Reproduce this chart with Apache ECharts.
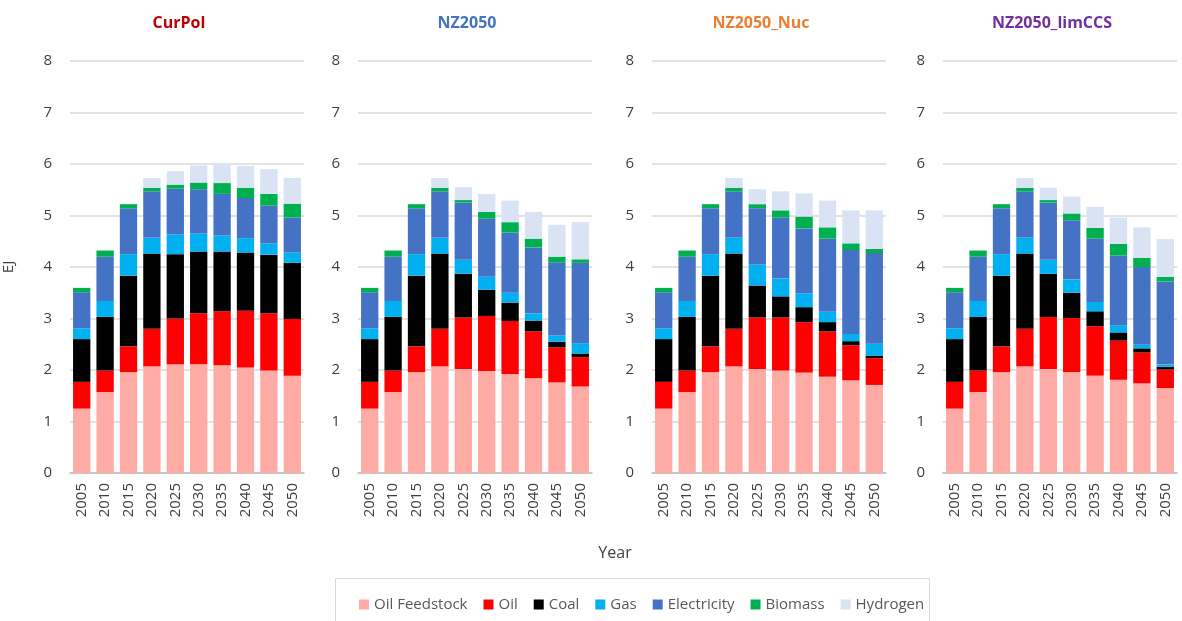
<!DOCTYPE html>
<html>
<head>
<meta charset="utf-8">
<script src="https://cdn.jsdelivr.net/npm/echarts@6/dist/echarts.min.js"></script>
<style>
	html, body { margin: 0; padding: 0; background: #fff; }
	#chart { width: 1182px; height: 621px; }
</style>
</head>
<body>
<div id="chart"></div>
<script>
	// categories and scenarios
	var years = ['2005', '2010', '2015', '2020', '2025', '2030', '2035', '2040', '2045', '2050'];
	var scenarios = ['CurPol', 'NZ2050', 'NZ2050_Nuc', 'NZ2050_limCCS'];
	var fuels = ['Oil Feedstock', 'Oil', 'Coal', 'Gas', 'Electricity', 'Biomass', 'Hydrogen'];
	var yTicks = [0, 1, 2, 3, 4, 5, 6, 7, 8];

	// one row per scenario (CurPol, NZ2050, NZ2050_Nuc, NZ2050_limCCS), EJ
	var oilFeedstock = [
		[1.25, 1.57, 1.96, 2.07, 2.11, 2.11, 2.09, 2.05, 1.99, 1.89],
		[1.25, 1.57, 1.96, 2.07, 2.02, 1.98, 1.92, 1.84, 1.76, 1.68],
		[1.25, 1.57, 1.96, 2.07, 2.02, 1.99, 1.95, 1.87, 1.80, 1.71],
		[1.25, 1.57, 1.96, 2.07, 2.02, 1.96, 1.89, 1.81, 1.74, 1.65]
	];
	var oil = [
		[0.52, 0.42, 0.50, 0.73, 0.89, 0.99, 1.05, 1.10, 1.11, 1.10],
		[0.52, 0.42, 0.50, 0.73, 1.00, 1.07, 1.03, 0.91, 0.68, 0.57],
		[0.52, 0.42, 0.50, 0.73, 1.00, 1.03, 0.98, 0.88, 0.68, 0.52],
		[0.52, 0.42, 0.50, 0.73, 1.01, 1.05, 0.96, 0.76, 0.60, 0.36]
	];
	var coal = [
		[0.83, 1.04, 1.37, 1.46, 1.25, 1.20, 1.16, 1.13, 1.14, 1.09],
		[0.83, 1.04, 1.37, 1.46, 0.85, 0.51, 0.36, 0.21, 0.11, 0.07],
		[0.83, 1.04, 1.37, 1.46, 0.62, 0.41, 0.29, 0.18, 0.08, 0.05],
		[0.83, 1.04, 1.37, 1.46, 0.84, 0.49, 0.29, 0.16, 0.08, 0.05]
	];
	var gas = [
		[0.21, 0.31, 0.42, 0.31, 0.38, 0.35, 0.31, 0.28, 0.22, 0.20],
		[0.21, 0.31, 0.42, 0.31, 0.27, 0.25, 0.19, 0.14, 0.12, 0.20],
		[0.21, 0.31, 0.42, 0.31, 0.41, 0.35, 0.27, 0.20, 0.14, 0.23],
		[0.21, 0.31, 0.42, 0.31, 0.27, 0.26, 0.18, 0.14, 0.07, 0.05]
	];
	var electricity = [
		[0.70, 0.86, 0.89, 0.90, 0.89, 0.86, 0.81, 0.78, 0.73, 0.68],
		[0.70, 0.86, 0.89, 0.90, 1.11, 1.13, 1.17, 1.28, 1.42, 1.56],
		[0.70, 0.86, 0.89, 0.90, 1.09, 1.18, 1.26, 1.42, 1.63, 1.76],
		[0.70, 0.86, 0.89, 0.90, 1.11, 1.15, 1.23, 1.35, 1.51, 1.61]
	];
	var biomass = [
		[0.085, 0.12, 0.08, 0.07, 0.08, 0.13, 0.21, 0.20, 0.23, 0.27],
		[0.085, 0.12, 0.08, 0.07, 0.05, 0.13, 0.20, 0.17, 0.11, 0.07],
		[0.085, 0.12, 0.08, 0.07, 0.08, 0.14, 0.23, 0.22, 0.13, 0.08],
		[0.085, 0.12, 0.08, 0.07, 0.05, 0.13, 0.21, 0.23, 0.18, 0.09]
	];
	var hydrogen = [
		[0, 0, 0, 0.19, 0.26, 0.33, 0.36, 0.42, 0.48, 0.50],
		[0, 0, 0, 0.19, 0.25, 0.35, 0.42, 0.52, 0.62, 0.72],
		[0, 0, 0, 0.19, 0.29, 0.37, 0.45, 0.52, 0.64, 0.75],
		[0, 0, 0, 0.19, 0.24, 0.33, 0.41, 0.51, 0.59, 0.73]
	];

	var fuelData = [oilFeedstock, oil, coal, gas, electricity, biomass, hydrogen];
	var fuelColors = ['#FFABA5', '#FF0000', '#000000', '#00B0F0', '#4472C4', '#00B050', '#DAE3F3'];
	var titleColors = ['#C00000', '#4472C4', '#ED7D31', '#7030A0'];

	var panelLeft = [70, 358, 652, 943];
	var panelWidth = 234;
	var font = 'Open Sans';

	var grids = [], xAxes = [], yAxes = [], series = [], graphics = [];

	scenarios.forEach(function (name, i) {
		grids.push({ left: panelLeft[i], top: 61, width: panelWidth, height: 412 });
		xAxes.push({
			type: 'category',
			gridIndex: i,
			data: years,
			axisTick: { show: false },
			axisLine: { lineStyle: { color: '#BFBFBF', width: 1.5 } },
			axisLabel: { rotate: 90, margin: 10, fontSize: 15, color: '#404040', fontFamily: font }
		});
		yAxes.push({
			type: 'value',
			gridIndex: i,
			min: yTicks[0],
			max: yTicks[yTicks.length - 1],
			interval: 1,
			name: i === 0 ? 'EJ' : '',
			nameLocation: 'middle',
			nameGap: 54,
			nameTextStyle: { fontSize: 15, color: '#404040', fontFamily: font },
			axisLine: { show: false },
			axisTick: { show: false },
			splitLine: { lineStyle: { color: '#D9D9D9', width: 1.5 } },
			axisLabel: { fontSize: 15, color: '#404040', margin: 18, fontFamily: font }
		});
		fuels.forEach(function (fuel, k) {
			series.push({
				name: fuel,
				type: 'bar',
				stack: 'total' + i,
				xAxisIndex: i,
				yAxisIndex: i,
				barCategoryGap: '26%',
				itemStyle: { color: fuelColors[k] },
				data: fuelData[k][i]
			});
		});
		graphics.push({
			type: 'text',
			x: panelLeft[i] + panelWidth / 2 - 8,
			y: 23,
			style: {
				text: name,
				fill: titleColors[i],
				font: 'bold 16px "' + font + '"',
				align: 'center',
				verticalAlign: 'middle'
			}
		});
	});

	graphics.push({
		type: 'text',
		x: 615, y: 553,
		style: { text: 'Year', fill: '#404040', font: '16px "' + font + '"', align: 'center', verticalAlign: 'middle' }
	});
	graphics.push({
		type: 'rect',
		shape: { x: 335.5, y: 578.5, width: 594, height: 60 },
		style: { fill: 'none', stroke: '#D9D9D9', lineWidth: 1 },
		z: -1
	});

	var chart = echarts.init(document.getElementById('chart'));
	chart.setOption({
		animation: false,
		legend: {
			data: fuels,
			left: 354,
			top: 592,
			icon: 'rect',
			itemWidth: 10,
			itemHeight: 10,
			itemGap: 16,
			textStyle: { fontSize: 15, color: '#595959', fontFamily: font }
		},
		grid: grids,
		xAxis: xAxes,
		yAxis: yAxes,
		series: series,
		graphic: graphics
	});
</script>
</body>
</html>
